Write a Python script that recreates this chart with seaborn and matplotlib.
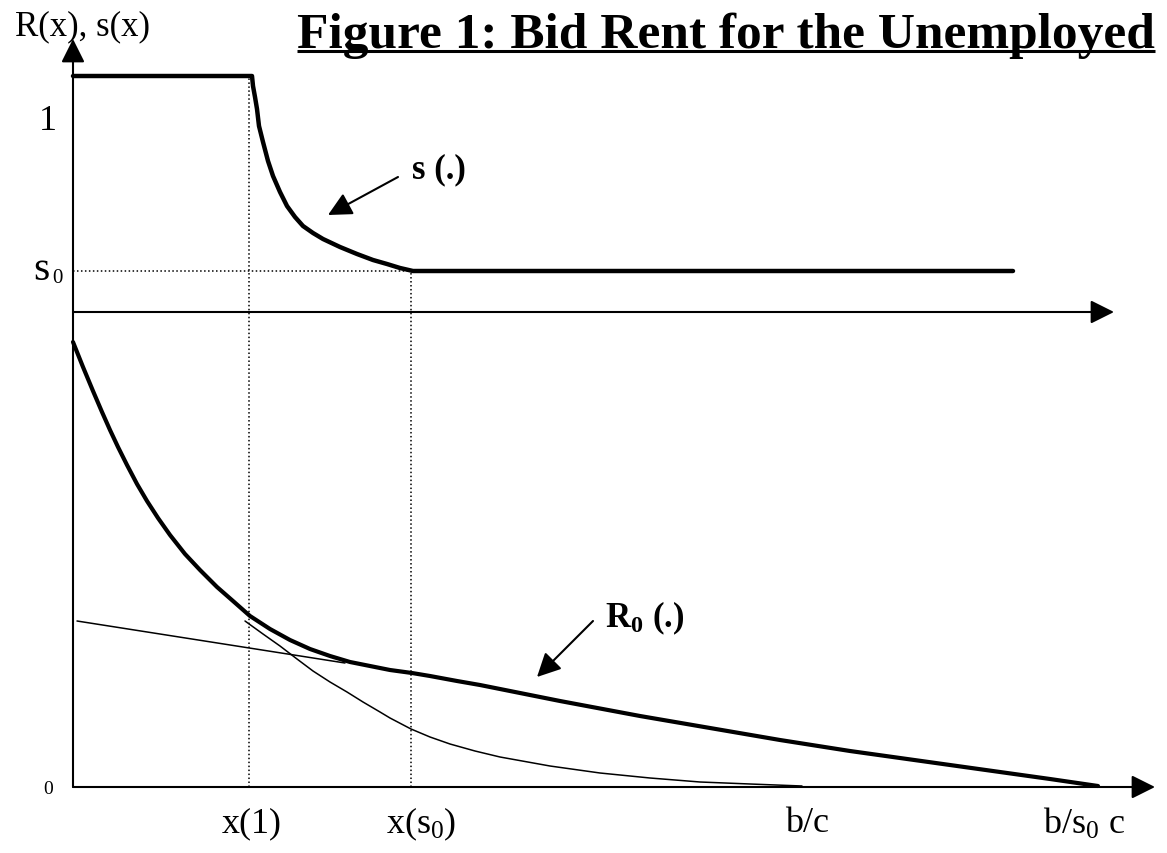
import matplotlib
matplotlib.use("Agg")
import matplotlib.pyplot as plt
import numpy as np
import pandas as pd
import seaborn as sns

# ---------------- data (diagram units: origin at lower axes corner) ----------------
# s(.) curve
s_x = [0, 179, 180, 182, 184, 186, 190, 195, 200, 207, 214, 222, 230, 240, 250,
       267, 284, 300, 314, 327, 340, 940]
s_y = [711, 711, 701, 690, 678, 661, 645, 626, 611, 595, 581, 570, 561, 554, 548,
       540, 533, 527, 523, 519, 516, 516]
# R0(.) bid-rent curve (thick)
r_x = [0, 10, 20, 29, 37, 45, 54, 64, 74, 85, 97, 112, 127, 144, 160, 177, 197, 217,
       237, 257, 277, 297, 317, 339, 357, 384, 407, 487, 567, 637, 707, 777, 877, 977, 1025]
r_y = [445, 420, 396, 375, 357, 340, 322, 303, 286, 269, 252, 233, 217, 200, 186, 171, 158, 147,
       138, 131, 125, 121, 117, 114, 111, 106, 102, 86, 71, 59, 47, 36, 22, 8, 1]
# thin straight line
tl_x = [4, 272]
tl_y = [166, 124]
# thin convex curve
tc_x = [172, 190, 207, 224, 240, 257, 274, 290, 307, 317, 338, 357, 377, 402, 427,
        477, 527, 577, 627, 677, 729]
tc_y = [166, 153, 141, 128, 116, 105, 95, 85, 75, 69, 58, 50, 43, 36, 30,
        21, 14, 9, 5, 3, 1]

# reference levels
s0_level = 516
x1_pos = 176
xs0_pos = 338
s_top = 710

# axes extents
upper_axis_y = 475
upper_axis_end = 1041
lower_axis_end = 1082
vert_axis_top = 748

# tick-like labels
xlabels = ["x(1)", r"x(s$_0$)", "b/c", r"b/s$_0$ c"]
xlabel_pos = [179, 348, 734, 1011]

title = "Figure 1: Bid Rent for the Unemployed"

# ---------------- style ----------------
sns.set_theme(style="white")
plt.rcParams["font.family"] = ["Liberation Serif", "DejaVu Serif"]
plt.rcParams["text.color"] = "black"
plt.rcParams["mathtext.fontset"] = "custom"
plt.rcParams["mathtext.rm"] = "Liberation Serif"
plt.rcParams["mathtext.it"] = "Liberation Serif:italic"
plt.rcParams["mathtext.bf"] = "Liberation Serif:bold"
plt.rcParams["mathtext.default"] = "regular"

fig = plt.figure(figsize=(11.67, 8.54), dpi=100)
ax = fig.add_axes([0, 0, 1, 1])

# curves via seaborn
df_s = pd.DataFrame({"x": s_x, "y": s_y})
df_r = pd.DataFrame({"x": r_x, "y": r_y})
df_tl = pd.DataFrame({"x": tl_x, "y": tl_y})
df_tc = pd.DataFrame({"x": tc_x, "y": tc_y})
sns.lineplot(data=df_tl, x="x", y="y", ax=ax, color="black", lw=1.1, sort=False, estimator=None)
sns.lineplot(data=df_tc, x="x", y="y", ax=ax, color="black", lw=1.1, sort=False, estimator=None)
sns.lineplot(data=df_r, x="x", y="y", ax=ax, color="black", lw=3.0, sort=False, estimator=None)
sns.lineplot(data=df_s, x="x", y="y", ax=ax, color="black", lw=3.2, sort=False, estimator=None)
ax.set_xlim(-73, 1094)
ax.set_ylim(-66, 788)
ax.axis("off")

# axes with arrowheads
ax_arrow = dict(arrowstyle="-|>,head_length=0.4,head_width=0.2", mutation_scale=36,
                lw=1.5, color="black", shrinkA=0, shrinkB=0)
ax.annotate("", xy=(lower_axis_end, 0), xytext=(0, 0), arrowprops=ax_arrow)
ax.annotate("", xy=(upper_axis_end, upper_axis_y), xytext=(0, upper_axis_y), arrowprops=ax_arrow)
ax.annotate("", xy=(0, vert_axis_top), xytext=(0, 0), arrowprops=ax_arrow)

# dotted guides
dot = (0, (1, 1.6))
ax.vlines([x1_pos], 0, s_top, colors="black", linestyles=[dot], lw=1.1)
ax.vlines([xs0_pos], 0, s0_level, colors="black", linestyles=[dot], lw=1.1)
ax.hlines([s0_level], 0, xs0_pos, colors="black", linestyles=[dot], lw=1.1)

# pointer arrows
ptr = dict(arrowstyle="-|>,head_length=0.6,head_width=0.3", mutation_scale=24,
           lw=1.5, color="black", shrinkA=0, shrinkB=0)
ax.annotate("", xy=(255, 572), xytext=(325, 610), arrowprops=ptr)
ax.annotate("", xy=(464, 110), xytext=(520, 166), arrowprops=ptr)

# labels
ax.text(339, 618, "s (.)", fontsize=25, fontweight="bold", ha="left", va="center")
ax.text(532, 170, r"R$_\mathbf{0}$ (.)", fontsize=25, fontweight="bold", ha="left", va="center")

ax.text(-58, 761, "R(x), s(x)", fontsize=25, ha="left", va="center")
ax.text(-25, 666, "1", fontsize=26, ha="center", va="center")
ax.text(-32, 518, "s", fontsize=30, ha="center", va="center")
ax.text(-16, 509, "0", fontsize=15, ha="center", va="center")
ax.text(-25, -2, "0", fontsize=14, ha="center", va="center")
for lab, pos in zip(xlabels, xlabel_pos):
    ax.text(pos, -36, lab, fontsize=26, ha="center", va="center")

t = ax.text(lower_axis_end, 752, title, fontsize=37, fontweight="bold", ha="right", va="center")

# underline the title
fig.canvas.draw()
bb = t.get_window_extent(renderer=fig.canvas.get_renderer())
inv = ax.transData.inverted()
(ux0, uy0), (ux1, _) = inv.transform([(bb.x0, bb.y0), (bb.x1, bb.y0)])
ax.plot([ux0, ux1], [uy0 + 7, uy0 + 7], color="black", lw=2.2, solid_capstyle="butt")

fig.savefig("out.png", dpi=100)
